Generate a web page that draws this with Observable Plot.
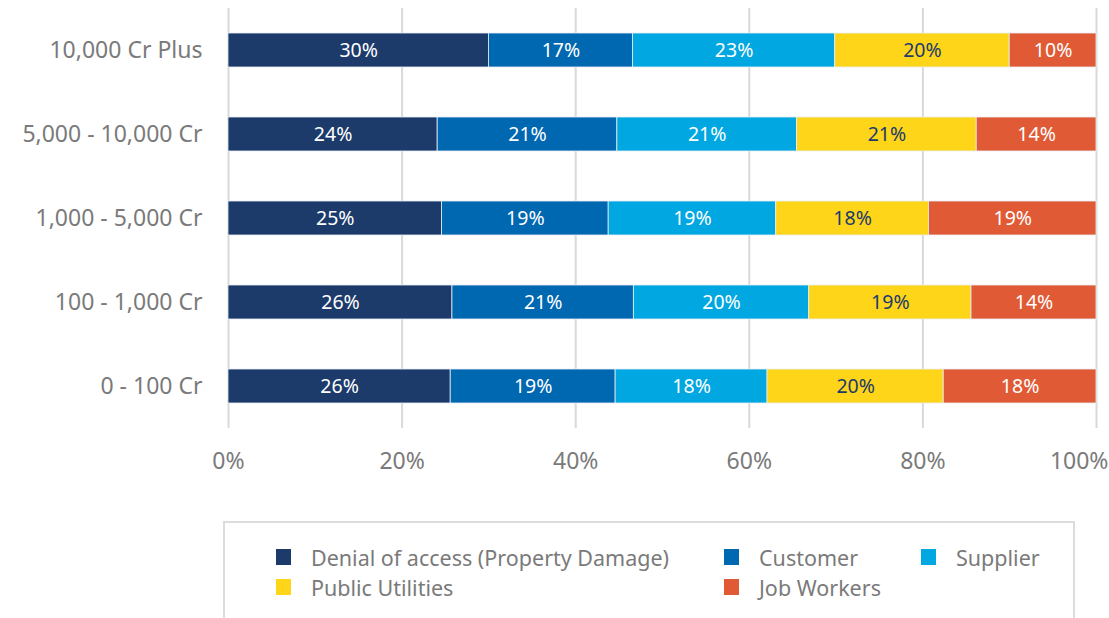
<!DOCTYPE html>
<html>
<head>
<meta charset="utf-8">
<script src="https://cdn.jsdelivr.net/npm/d3@7"></script>
<script src="https://cdn.jsdelivr.net/npm/@observablehq/plot@0.6"></script>
<style>
  body { margin: 0; background: #fff; font-family: "Noto Sans", sans-serif; }
  #chart svg { display: block; }
  #legend {
    position: relative;
    margin-left: 223px;
    width: 852px;
    height: 110px;
    margin-top: 21px;
    border: 2px solid #dcdcdc;
    box-sizing: border-box;
    padding: 19px 0 0 51px;
    display: grid;
    grid-template-columns: 448px 197px auto;
    grid-auto-rows: 30px;
    font-size: 21.5px;
    color: #7a7a7a;
  }
  .item { display: flex; align-items: center; white-space: nowrap; }
  .sw { width: 15px; height: 16px; margin-right: 20px; flex: none; }
</style>
</head>
<body>
<div id="chart"></div>
<div id="legend"></div>
<script>
const categories = ["10,000 Cr Plus", "5,000 - 10,000 Cr", "1,000 - 5,000 Cr", "100 - 1,000 Cr", "0 - 100 Cr"];
const series = ["Denial of access (Property Damage)", "Customer", "Supplier", "Public Utilities", "Job Workers"];
const colors = ["#1c3b6b", "#0067b1", "#00a7e0", "#fed519", "#e15a36"];
// values (%) per series, in category order
const denial = [30.0, 24.1, 24.6, 25.8, 25.6];
const customer = [16.6, 20.7, 19.2, 20.9, 19.0];
const supplier = [23.3, 20.7, 19.3, 20.2, 17.5];
const utilities = [20.1, 20.7, 17.6, 18.7, 20.3];
const jobWorkers = [10.0, 13.8, 19.3, 14.4, 17.6];
const xTicks = [0, 20, 40, 60, 80, 100];

const seriesValues = [denial, customer, supplier, utilities, jobWorkers];
const data = [];
series.forEach((s, si) => {
  categories.forEach((c, ci) => {
    data.push({category: c, series: s, value: seriesValues[si][ci]});
  });
});

const chart = Plot.plot({
  width: 1109,
  height: 500,
  marginLeft: 228,
  marginRight: 13,
  marginTop: 8,
  marginBottom: 72,
  style: {fontFamily: "Noto Sans, sans-serif", background: "#fff"},
  x: {domain: [0, 100]},
  y: {domain: categories, paddingInner: 0.595, paddingOuter: 0.2975},
  color: {domain: series, range: colors},
  marks: [
    Plot.gridX(xTicks, {stroke: "#d9d9d9", strokeOpacity: 1, strokeWidth: 2}),
    Plot.barX(data, Plot.stackX({
      x: "value", y: "category", z: "series", fill: "series",
      stroke: "#e8eef5", strokeWidth: 0.8
    })),
    Plot.text(data, Plot.stackX({
      x: "value", y: "category", z: "series",
      text: d => Math.round(d.value) + "%",
      fill: d => d.series === "Public Utilities" ? "#1c3b6b" : "#ffffff",
      fontSize: 19.5
    })),
    Plot.axisY({tickSize: 0, tickPadding: 26, fontSize: 23, color: "#7a7a7a", label: null}),
    Plot.axisX(xTicks.filter(t => t < 100), {tickSize: 0, tickPadding: 24, fontSize: 23, color: "#7a7a7a", tickFormat: d => d + "%", label: null}),
    Plot.axisX([100], {tickSize: 0, tickPadding: 24, fontSize: 23, color: "#7a7a7a", tickFormat: d => d + "%", textAnchor: "end", dx: 12, label: null})
  ]
});
document.getElementById("chart").appendChild(chart);

const legend = document.getElementById("legend");
series.forEach((s, i) => {
  const item = document.createElement("div");
  item.className = "item";
  const sw = document.createElement("span");
  sw.className = "sw";
  sw.style.background = colors[i];
  const label = document.createElement("span");
  label.textContent = s;
  item.appendChild(sw);
  item.appendChild(label);
  legend.appendChild(item);
});
</script>
</body>
</html>
